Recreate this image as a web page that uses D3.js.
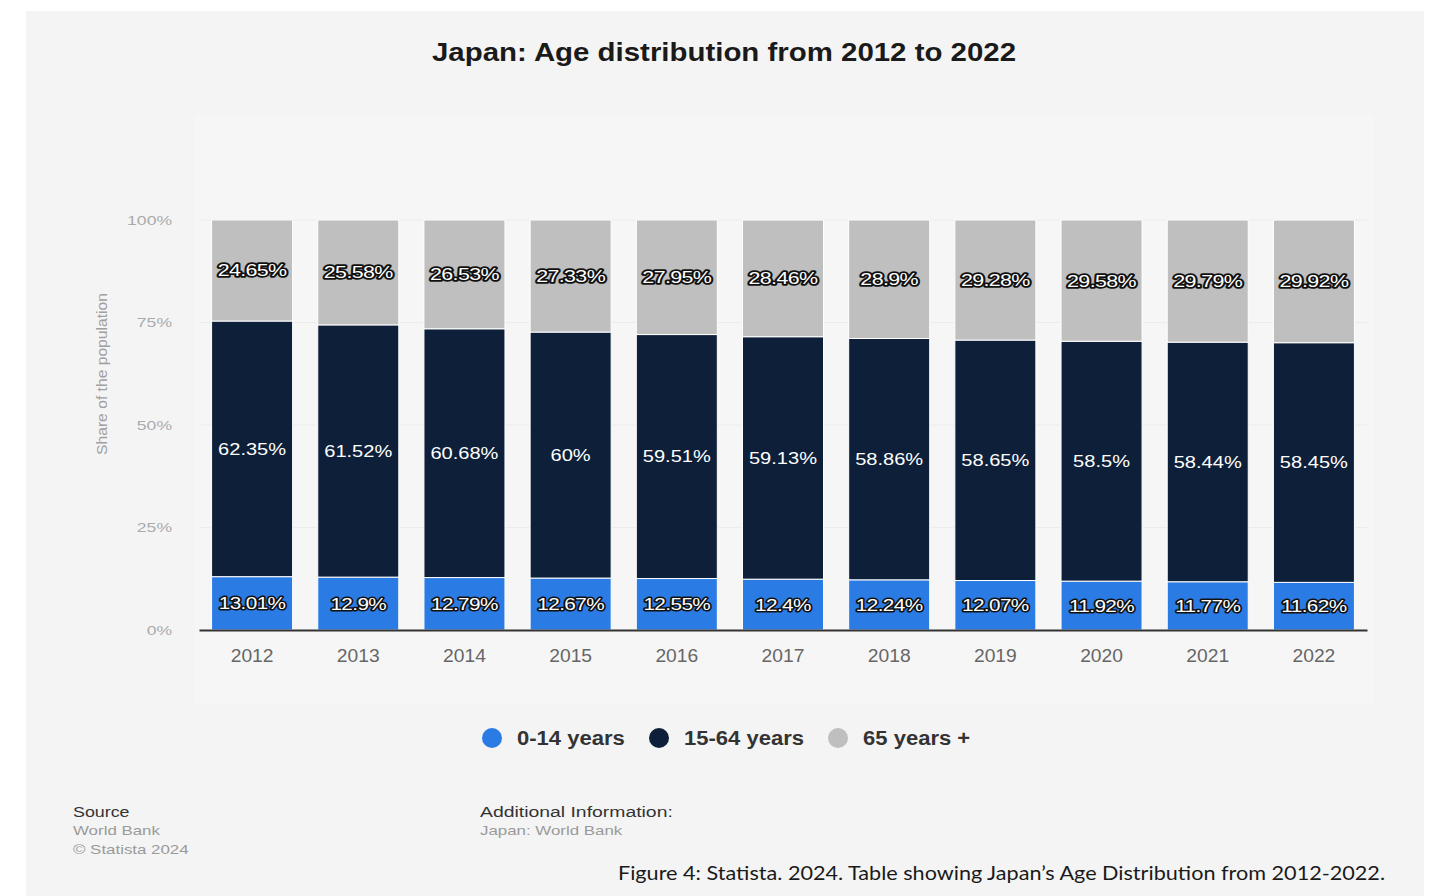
<!DOCTYPE html>
<html>
<head>
<meta charset="utf-8">
<script src="https://cdn.jsdelivr.net/npm/d3@7"></script>
<style>
  html, body { margin: 0; padding: 0; background: #ffffff; }
  svg { display: block; }
</style>
</head>
<body>
<svg id="chart" width="1433" height="896"></svg>
<script>
const years = ["2012","2013","2014","2015","2016","2017","2018","2019","2020","2021","2022"];
const age0to14 = [13.01, 12.9, 12.79, 12.67, 12.55, 12.4, 12.24, 12.07, 11.92, 11.77, 11.62];
const age15to64 = [62.35, 61.52, 60.68, 60, 59.51, 59.13, 58.86, 58.65, 58.5, 58.44, 58.45];
const age65plus = [24.65, 25.58, 26.53, 27.33, 27.95, 28.46, 28.9, 29.28, 29.58, 29.79, 29.92];
const seriesNames = ["0-14 years", "15-64 years", "65 years +"];
const seriesColors = ["#2b7be5", "#0e2039", "#bfbfbf"];
const yTicks = [0, 25, 50, 75, 100];

const ff = "Liberation Sans, Arial, sans-serif";
const svg = d3.select("#chart");

function stretch(sel, f) {
  sel.each(function () {
    const l = this.getComputedTextLength();
    d3.select(this).attr("textLength", l * f).attr("lengthAdjust", "spacingAndGlyphs");
  });
  return sel;
}
function fitTo(sel, w) {
  sel.attr("textLength", w).attr("lengthAdjust", "spacingAndGlyphs");
  return sel;
}

// background panel
svg.append("rect").attr("x", 26).attr("y", 11).attr("width", 1398).attr("height", 885).attr("fill", "#f4f4f4");
svg.append("rect").attr("x", 195).attr("y", 115).attr("width", 1178).attr("height", 590).attr("fill", "#f6f6f6");

// title
fitTo(svg.append("text").attr("x", 724).attr("y", 61).attr("text-anchor", "middle")
  .attr("font-family", ff).attr("font-weight", "bold")
  .attr("font-size", 25.5).attr("fill", "#1a1a1a")
  .text("Japan: Age distribution from 2012 to 2022"), 584);

const x = d3.scaleBand().domain(years).range([199, 1367]).paddingInner(0.237).paddingOuter(0.1185);
const y = d3.scaleLinear().domain([0, 100]).range([630, 220]);

// gridlines
svg.append("g").selectAll("line").data(yTicks.filter(t => t > 0)).join("line")
  .attr("x1", 199).attr("x2", 1367)
  .attr("y1", d => y(d)).attr("y2", d => y(d))
  .attr("stroke", "#ececec").attr("stroke-width", 1);

// y tick labels
const yAxis = d3.axisLeft(y).tickValues(yTicks).tickFormat(d => d + "%").tickSize(0).tickPadding(0);
const gy = svg.append("g").attr("transform", "translate(172,0)").call(yAxis);
gy.select(".domain").remove();
stretch(gy.selectAll("text").attr("font-family", ff)
  .attr("font-size", 13.5).attr("fill", "#aaaaaa"), 1.3);

// y axis title
stretch(svg.append("text").attr("transform", "translate(107,374) rotate(-90)").attr("text-anchor", "middle")
  .attr("font-family", ff).attr("font-size", 14.5).attr("fill", "#a0a0a0")
  .text("Share of the population"), 1.08);

// stacked data
const rows = years.map((yr, i) => ({ year: yr, s0: age0to14[i], s1: age15to64[i], s2: age65plus[i] }));
const stack = d3.stack().keys(["s0", "s1", "s2"]);
const layers = stack(rows);

const gBars = svg.append("g");
layers.forEach((layer, li) => {
  gBars.append("g").selectAll("rect").data(layer).join("rect")
    .attr("x", d => x(d.data.year))
    .attr("width", x.bandwidth())
    .attr("y", d => y(d[1]))
    .attr("height", d => y(d[0]) - y(d[1]))
    .attr("fill", seriesColors[li])
    .attr("stroke", "#ffffff").attr("stroke-width", 1);
});

// labels
const gLab = svg.append("g");
const labelStretch = [1.22, 1.18, 1.26];
layers.forEach((layer, li) => {
  const key = ["s0", "s1", "s2"][li];
  const outlined = li !== 1;
  const sel = gLab.append("g").selectAll("text").data(layer).join("text")
    .attr("x", d => x(d.data.year) + x.bandwidth() / 2)
    .attr("y", d => (y(d[0]) + y(d[1])) / 2)
    .attr("dy", "0.35em")
    .attr("text-anchor", "middle")
    .attr("font-family", ff)
    .attr("font-size", 17)
    .attr("fill", "#ffffff")
    .text(d => d.data[key] + "%");
  if (outlined) {
    sel.attr("stroke", "#111111").attr("stroke-width", li === 2 ? 3.5 : 3).attr("paint-order", "stroke")
      .attr("stroke-linejoin", "round").attr("letter-spacing", -0.5);
  }
  stretch(sel, labelStretch[li]);
});

// x axis
const xAxis = d3.axisBottom(x).tickSize(0).tickPadding(20);
const gx = svg.append("g").attr("transform", "translate(0,630)").call(xAxis);
gx.select(".domain").attr("stroke", "#333333").attr("stroke-width", 2);
stretch(gx.selectAll("text").attr("font-family", ff)
  .attr("font-size", 17.5).attr("fill", "#666666"), 1.1);

// legend
const legendX = [492, 659, 838];
const gLeg = svg.append("g");
seriesNames.forEach((name, i) => {
  gLeg.append("circle").attr("cx", legendX[i]).attr("cy", 738).attr("r", 10).attr("fill", seriesColors[i]);
  stretch(gLeg.append("text").attr("x", legendX[i] + 25).attr("y", 745)
    .attr("font-family", ff).attr("font-weight", "bold")
    .attr("font-size", 19.5).attr("fill", "#333333").text(name), 1.13);
});

// source
stretch(svg.append("text").attr("x", 73).attr("y", 817).attr("font-family", ff).attr("font-size", 15.5).attr("fill", "#333").text("Source"), 1.15);
stretch(svg.append("text").attr("x", 73).attr("y", 835).attr("font-family", ff).attr("font-size", 13.5).attr("fill", "#9a9a9a").text("World Bank"), 1.25);
stretch(svg.append("text").attr("x", 73).attr("y", 854).attr("font-family", ff).attr("font-size", 13.5).attr("fill", "#9a9a9a").text("© Statista 2024"), 1.25);
stretch(svg.append("text").attr("x", 480).attr("y", 817).attr("font-family", ff).attr("font-size", 15.5).attr("fill", "#333").text("Additional Information:"), 1.25);
stretch(svg.append("text").attr("x", 480).attr("y", 835).attr("font-family", ff).attr("font-size", 13.5).attr("fill", "#9a9a9a").text("Japan: World Bank"), 1.25);

// caption
fitTo(svg.append("text").attr("x", 618).attr("y", 880).attr("font-family", "Lato, 'Open Sans', sans-serif")
  .attr("font-size", 20).attr("fill", "#1a1a1a")
  .text("Figure 4: Statista. 2024. Table showing Japan’s Age Distribution from 2012-2022."), 767);
</script>
</body>
</html>
